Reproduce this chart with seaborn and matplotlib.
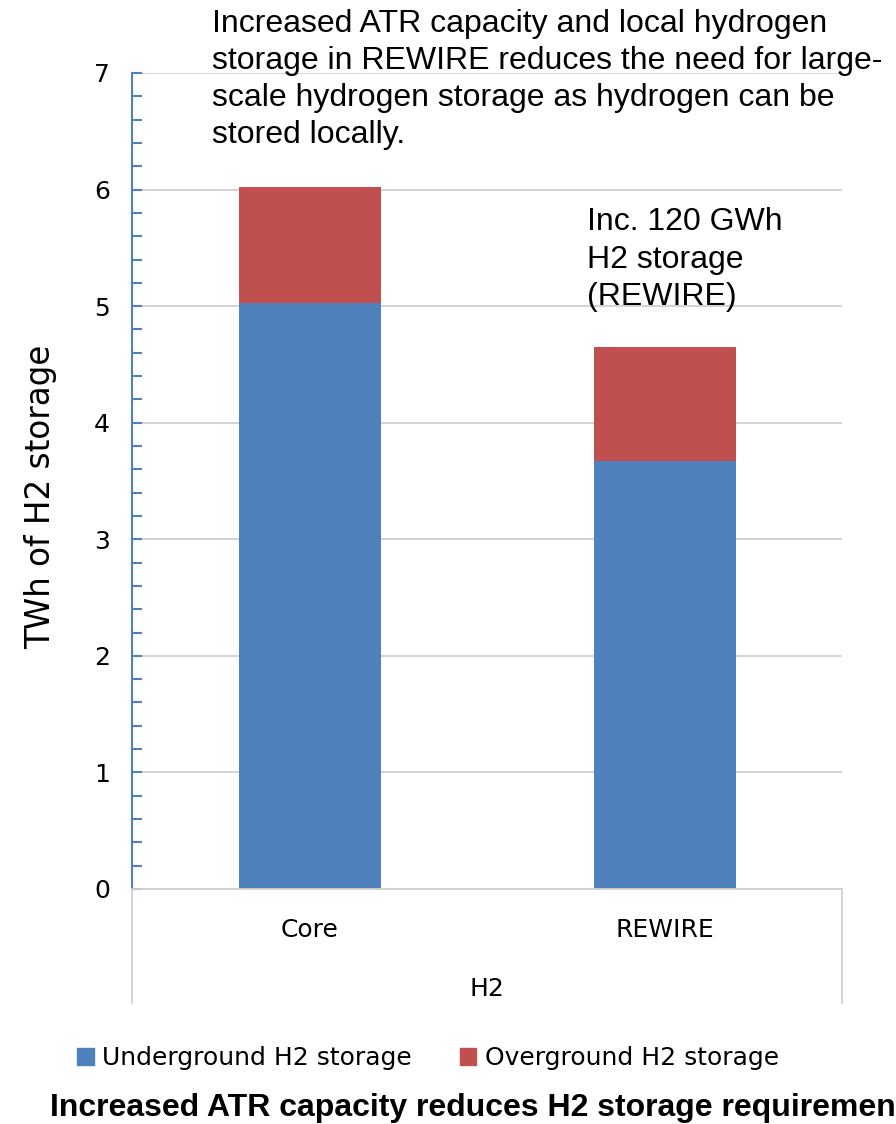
import matplotlib
matplotlib.use("Agg")
import matplotlib.pyplot as plt
import seaborn as sns
import pandas as pd
from matplotlib.lines import Line2D
from matplotlib.patches import Patch
from matplotlib.ticker import MultipleLocator

# ---- data ----
scenarios = ["Core", "REWIRE"]
underground = [5.03, 3.67]
overground = [0.99, 0.98]
group_label = "H2"
y_label = "TWh of H2 storage"
series_names = ["Underground H2 storage", "Overground H2 storage"]
colors = ["#4F81BD", "#C0504D"]

df = pd.DataFrame({"scenario": scenarios,
                   "under": underground,
                   "over": overground})
df["total"] = df["under"] + df["over"]

sns.set_theme(style="white")
plt.rcParams["font.family"] = ["DejaVu Sans"]
plt.rcParams["text.color"] = "black"
plt.rcParams["axes.labelcolor"] = "black"
plt.rcParams["xtick.color"] = "black"
plt.rcParams["ytick.color"] = "black"

fig = plt.figure(figsize=(8.96, 11.24), dpi=100)
ax = fig.add_axes([132/896, 235/1124, 710/896, 816/1124])

sns.barplot(data=df, x="scenario", y="total", color=colors[1], width=0.4,
            saturation=1, ax=ax, linewidth=0)
sns.barplot(data=df, x="scenario", y="under", color=colors[0], width=0.4,
            saturation=1, ax=ax, linewidth=0)

ax.set_ylim(0, 7)
ax.set_xlim(-0.5, 1.5)
ax.yaxis.set_major_locator(MultipleLocator(1))
ax.yaxis.set_minor_locator(MultipleLocator(0.2))
ax.grid(axis="y", which="major", color="#D0D0D0", linewidth=1.3, zorder=0)
ax.set_axisbelow(True)

for s in ["top", "right"]:
    ax.spines[s].set_visible(False)
ax.spines["left"].set_color("#4F81BD")
ax.spines["left"].set_linewidth(1.5)
ax.spines["bottom"].set_color("#D0D0D0")
ax.spines["bottom"].set_linewidth(1.3)

ax.tick_params(axis="y", which="major", direction="in", length=7, width=1.5,
               color="#4F81BD", labelcolor="black", labelsize=18, pad=16, left=True)
ax.tick_params(axis="y", which="minor", direction="in", length=7, width=1.5,
               color="#4F81BD", left=True)
ax.tick_params(axis="x", length=0, labelsize=18, labelcolor="black", pad=21, bottom=False)
ax.set_xlabel("")
ax.set_ylabel(y_label, fontsize=23.5, color="black")
ax.yaxis.set_label_coords(-75/710, 392/816)

# group separators below x axis
for xa in [0, 1]:
    ax.add_line(Line2D([xa, xa], [0, -114/816], transform=ax.transAxes,
                       color="#D0D0D0", linewidth=1.3, clip_on=False))
ax.text(0.5, -100/816, group_label, transform=ax.transAxes, ha="center",
        va="center", fontsize=18, color="black")

# annotations
fig.text(212/896, 1 - 9/1124,
         "Increased ATR capacity and local hydrogen\nstorage in REWIRE reduces the need for large-\nscale hydrogen storage as hydrogen can be\nstored locally.",
         ha="left", va="top", fontsize=23, family="Liberation Sans",
         linespacing=1.31, color="black")
fig.text(587/896, 1 - 207/1124, "Inc. 120 GWh\nH2 storage\n(REWIRE)",
         ha="left", va="top", fontsize=23, family="Liberation Sans",
         linespacing=1.33, color="black")

handles = [Patch(color=colors[0]), Patch(color=colors[1])]
fig.legend(handles, series_names, loc="center", bbox_to_anchor=(428/896, 1 - 1058/1124),
           ncol=2, frameon=False, fontsize=18, handlelength=0.65, handleheight=0.65,
           handletextpad=0.35, columnspacing=1.9, labelcolor="black")

fig.text(50/896, 1 - 1108/1124,
         "Increased ATR capacity reduces H2 storage requirements",
         ha="left", va="center", fontsize=23, fontweight="bold",
         family="Liberation Sans", color="black")

fig.savefig("out.png", dpi=100)
